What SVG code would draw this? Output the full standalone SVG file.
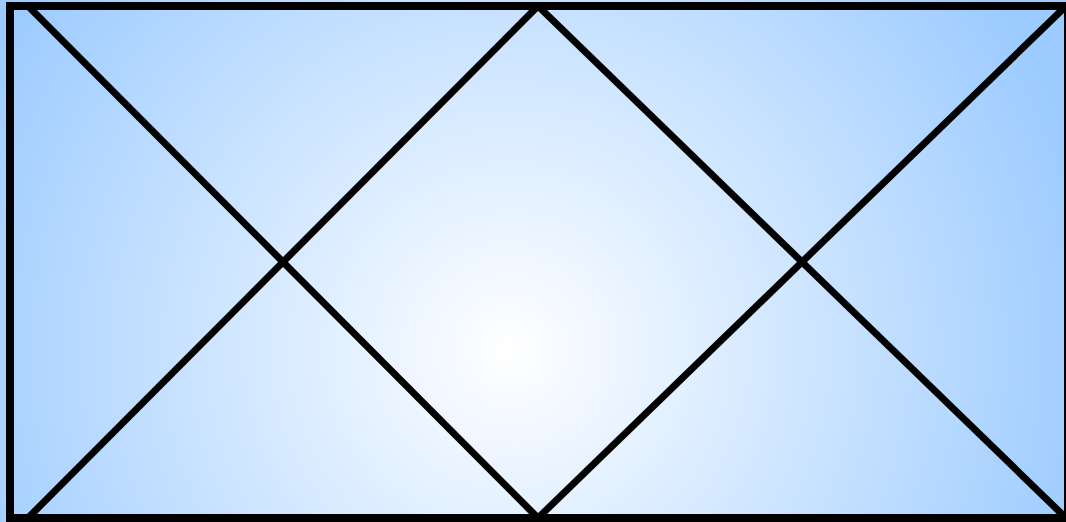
<svg xmlns="http://www.w3.org/2000/svg" width="1066" height="522" viewBox="0 0 1066 522">
  <defs>
    <radialGradient id="bg" gradientUnits="userSpaceOnUse" cx="510" cy="350" r="600">
      <stop offset="0" stop-color="#ffffff"/>
      <stop offset="1" stop-color="#9ccbff"/>
    </radialGradient>
  </defs>
  <style>
    .edge { stroke: #000; stroke-width: 7; fill: none; }
    .frame { stroke: #000; stroke-width: 8; fill: none; }
  </style>
  <rect x="0" y="0" width="1066" height="522" fill="url(#bg)"/>
  <g id="frame">
    <rect class="frame" x="10" y="6" width="1058" height="512"/>
  </g>
  <g id="connectors">
    <line class="edge" x1="28" y1="6" x2="538" y2="518"/>
    <line class="edge" x1="538" y1="6" x2="28" y2="518"/>
    <line class="edge" x1="538" y1="6" x2="1066" y2="518"/>
    <line class="edge" x1="538" y1="518" x2="1066" y2="6"/>
  </g>
</svg>
